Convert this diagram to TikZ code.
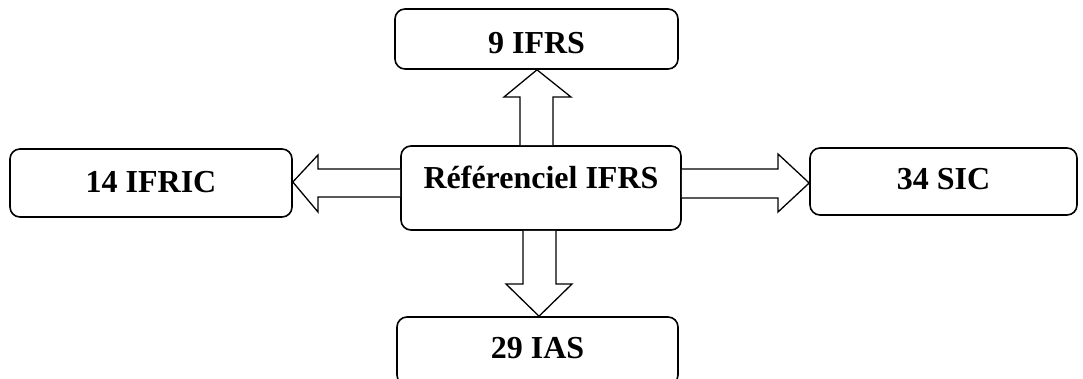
\documentclass[tikz,border=0pt]{standalone}
\usepackage{fontspec}
\setmainfont{Liberation Serif}
\begin{document}
\begin{tikzpicture}[x=1pt,y=-1pt,
  box/.style={draw, line width=1.6pt, rounded corners=10pt, inner sep=0pt,
    font=\fontsize{32}{36}\selectfont\bfseries},
  blockarrow/.style={draw, line width=1.3pt, fill=white, line join=miter}]
\useasboundingbox (0,0) rectangle (1083,379);
\clip (0,0) rectangle (1083,379);
\node[box, minimum width=283pt, minimum height=60pt, text height=29pt, text depth=0pt] (t) at (536.5,39) {9 IFRS};
\node[box, minimum width=280pt, minimum height=84pt, text height=22pt, text depth=20pt] (c) at (541,188) {Référenciel IFRS};
\node[box, minimum width=282pt, minimum height=68pt, text height=22pt, text depth=3pt] (l) at (151,183) {14 IFRIC};
\node[box, minimum width=267pt, minimum height=67pt, text height=22pt, text depth=6pt] (r) at (943.5,181.5) {34 SIC};
\node[box, minimum width=281pt, minimum height=68pt, text height=22pt, text depth=7pt] (b) at (537.5,351) {29 IAS};
% up arrow
\draw[blockarrow] (c.north -| 520,0) -- (520,97) -- (504,97) -- (t.south -| 537,0) -- (571,97) -- (553,97) -- (c.north -| 553,0);
% down arrow
\draw[blockarrow] (c.south -| 523,0) -- (523,284) -- (506,284) -- (b.north -| 539,0) -- (572,284) -- (556,284) -- (c.south -| 556,0);
% left arrow
\draw[blockarrow] (c.west |- 0,169) -- (318,169) -- (318,155) -- (l.east |- 0,182) -- (318,212) -- (318,197) -- (c.west |- 0,197);
% right arrow
\draw[blockarrow] (c.east |- 0,169) -- (778,169) -- (778,154) -- (r.west |- 0,183) -- (778,212) -- (778,198) -- (c.east |- 0,198);
\end{tikzpicture}
\end{document}
